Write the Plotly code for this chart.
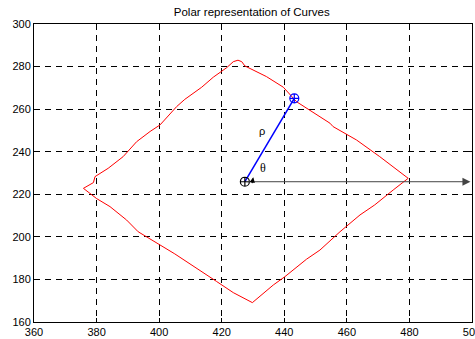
import plotly.graph_objects as go

# Curve (boundary) points
curve_x = [479.6, 470.5, 463.1, 455.6, 454.6, 443.9, 439.7, 434.3, 427.4, 426.4, 425.2, 423.7,
           421.6, 417.3, 413.6, 408.2, 405.6, 400.3, 397.1, 392.8, 388.5, 383.7, 379.5, 379.0,
           375.8, 380.0, 384.3, 389.6, 393.3, 405.0, 418.4, 423.7, 429.8, 435.9, 436.5, 440.2,
           447.1, 451.4, 457.8, 464.2, 468.9, 474.8, 479.6]
curve_y = [227.5, 237.7, 245.5, 251.8, 253.4, 263.5, 270.3, 275.3, 280.3, 282.3, 283.0, 282.3,
           279.5, 275.0, 270.3, 264.6, 261.2, 252.6, 249.5, 244.7, 237.7, 232.2, 228.3, 225.5,
           222.8, 218.0, 214.2, 207.9, 202.4, 192.0, 179.0, 173.8, 169.1, 176.6, 177.4, 181.3,
           189.5, 193.8, 202.4, 210.3, 215.0, 222.0, 227.5]

center = [427.4, 225.9]
endpoint = [443.2, 265.1]
ref_end_x = 500
theta_arrow_tail = [429.6, 224.5]
theta_arrow_head = [430.1, 228.0]
rho_label = [433.0, 249.8]
theta_label = [433.3, 232.5]

x_ticks = [360, 380, 400, 420, 440, 460, 480, 500]
y_ticks = [160, 180, 200, 220, 240, 260, 280, 300]

fig = go.Figure()
fig.add_trace(go.Scatter(x=curve_x, y=curve_y, mode="lines",
                         line=dict(color="red", width=1), showlegend=False))
fig.add_trace(go.Scatter(x=[center[0], endpoint[0]], y=[center[1], endpoint[1]], mode="lines",
                         line=dict(color="blue", width=1.5), showlegend=False))
fig.add_trace(go.Scatter(x=[endpoint[0]], y=[endpoint[1]], mode="markers",
                         marker=dict(symbol="circle-cross-open", size=9, color="blue",
                                     line=dict(width=1.2, color="blue")), showlegend=False))
fig.add_trace(go.Scatter(x=[center[0]], y=[center[1]], mode="markers",
                         marker=dict(symbol="circle-cross-open", size=9, color="black",
                                     line=dict(width=1.2, color="black")), showlegend=False))

fig.add_annotation(x=ref_end_x - 0.5, y=center[1], ax=center[0], ay=center[1],
                   xref="x", yref="y", axref="x", ayref="y", showarrow=True,
                   arrowhead=2, arrowsize=1.6, arrowwidth=1, arrowcolor="#444444",
                   standoff=0, startstandoff=0, text="")
fig.add_annotation(x=theta_arrow_head[0], y=theta_arrow_head[1],
                   ax=theta_arrow_tail[0], ay=theta_arrow_tail[1],
                   xref="x", yref="y", axref="x", ayref="y", showarrow=True,
                   arrowhead=2, arrowsize=0.9, arrowwidth=1.2, arrowcolor="black",
                   standoff=0, text="")
fig.add_annotation(x=rho_label[0], y=rho_label[1], text="ρ", showarrow=False,
                   font=dict(family="Liberation Sans, Arial", size=11, color="black"))
fig.add_annotation(x=theta_label[0], y=theta_label[1], text="θ", showarrow=False,
                   font=dict(family="Liberation Serif, Times New Roman", size=12, color="black"))

axis_common = dict(showgrid=True, gridcolor="black", gridwidth=1, griddash="6px,5px",
                   zeroline=False, showline=True, linecolor="black", linewidth=1, mirror="ticks",
                   ticks="inside", ticklen=4, tickcolor="black", ticklabeloverflow="allow",
                   automargin=False,
                   tickfont=dict(family="Liberation Sans, Arial", size=11, color="black"))

fig.update_layout(
    width=475, height=339,
    margin=dict(l=34, r=3, t=24, b=17, autoexpand=False),
    paper_bgcolor="white", plot_bgcolor="white",
    title=dict(text="Polar representation of Curves", x=0.53, xanchor="center",
               y=0.965, yanchor="middle",
               font=dict(family="Liberation Sans, Arial", size=11.5, color="black")),
    xaxis=dict(range=[360, 500], tickvals=x_ticks, ticktext=[str(v) for v in x_ticks], **axis_common),
    yaxis=dict(range=[160, 300], tickvals=y_ticks, ticktext=[str(v) for v in y_ticks], **axis_common),
)
fig.write_html("out.html")
